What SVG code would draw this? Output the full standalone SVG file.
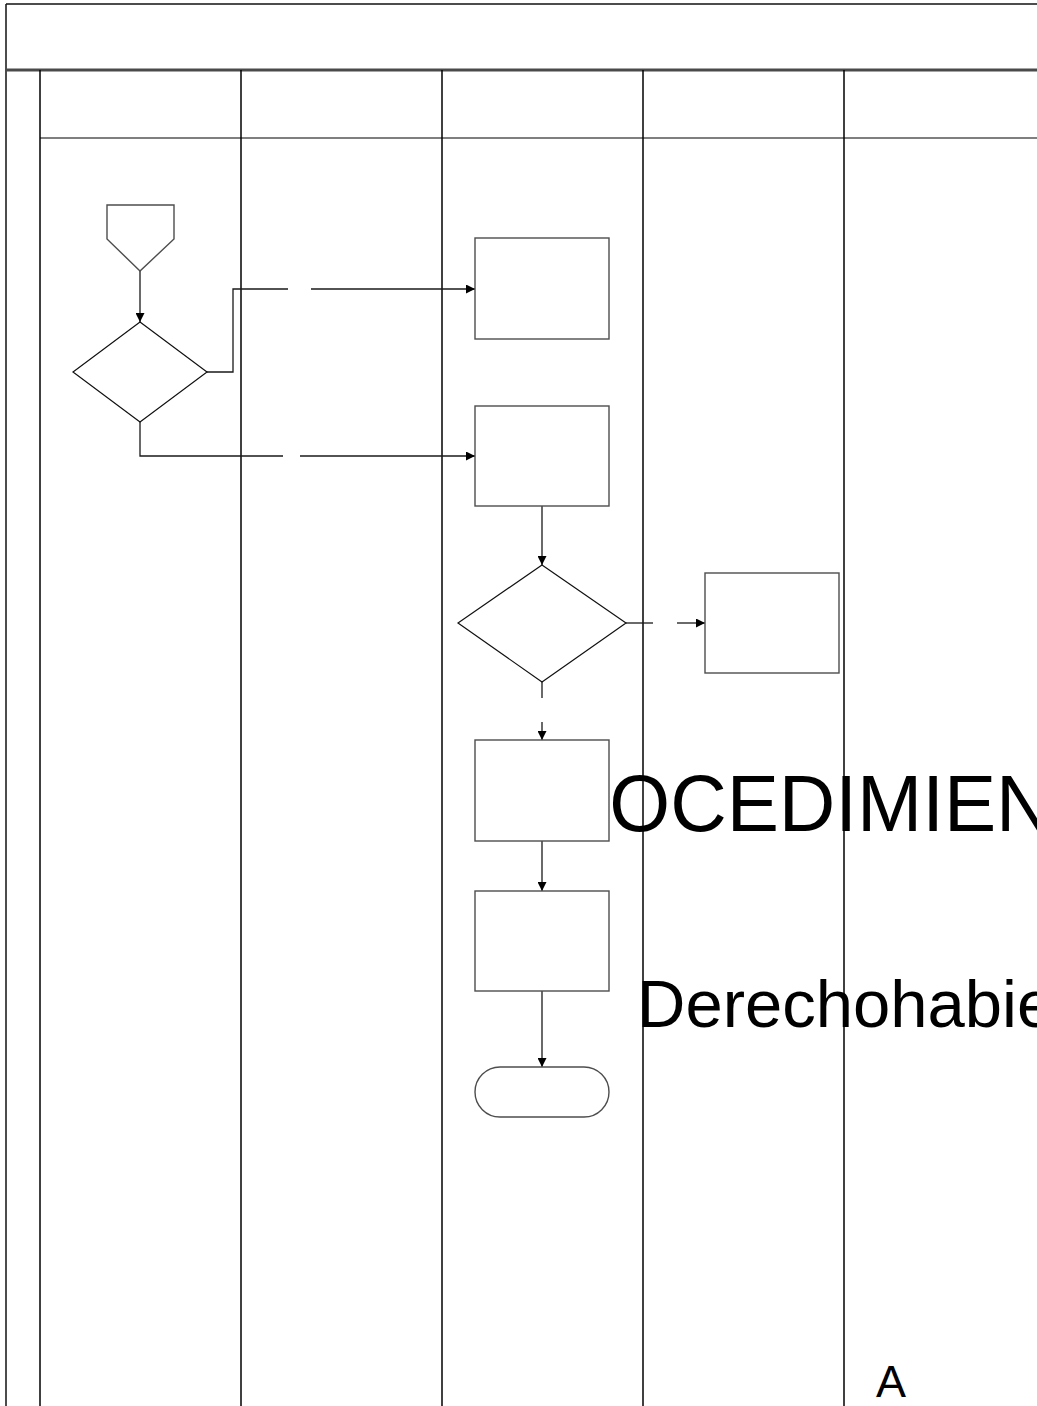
<svg xmlns="http://www.w3.org/2000/svg" width="1037" height="1406" viewBox="0 0 1037 1406">
  <style>
    .bg { fill: #ffffff; }
    .title { font-family: "Liberation Sans", Arial, sans-serif; fill: #000000; }
    .frame { fill: none; stroke: #111111; stroke-width: 1.5; }
    .band { fill: none; stroke: #4a4a4a; stroke-width: 2.8; }
    .sub { fill: none; stroke: #555555; stroke-width: 1.5; }
    .lane { fill: none; stroke: #000000; stroke-width: 1.5; }
    .box { fill: #ffffff; stroke: #4d4d4d; stroke-width: 1.4; }
    .dec { fill: #ffffff; stroke: #111111; stroke-width: 1.2; }
    .link { fill: none; stroke: #1a1a1a; stroke-width: 1.3; }
  </style>
  <defs>
    <marker id="arrow" viewBox="0 0 10 10" refX="10" refY="5" markerWidth="10" markerHeight="9" markerUnits="userSpaceOnUse" orient="auto">
      <path d="M0,0 L10,5 L0,10 z" fill="#000000"/>
    </marker>
  </defs>

  <rect class="bg" x="0" y="0" width="1037" height="1406"/>

  <!-- large headings that run under the lane grid -->
  <g id="headings">
    <text class="title" transform="translate(609.3,831) scale(0.978,1)" font-size="80">OCEDIMIEN</text>
    <text class="title" x="637" y="1027" font-size="67">Derechohabie</text>
    <text class="title" x="876" y="1397" font-size="45">A</text>
  </g>

  <!-- swimlane frame -->
  <g id="frame">
    <line class="frame" x1="6" y1="4" x2="1037" y2="4"/>
    <line class="frame" x1="6" y1="4" x2="6" y2="1406"/>
    <line class="band" x1="6" y1="70" x2="1037" y2="70"/>
    <line class="sub" x1="40" y1="138" x2="1037" y2="138"/>
    <line class="lane" x1="40" y1="70" x2="40" y2="1406"/>
    <line class="lane" x1="241" y1="70" x2="241" y2="1406"/>
    <line class="lane" x1="442" y1="70" x2="442" y2="1406"/>
    <line class="lane" x1="643" y1="70" x2="643" y2="1406"/>
    <line class="lane" x1="844" y1="70" x2="844" y2="1406"/>
  </g>

  <!-- connectors -->
  <g id="connectors">
    <line class="link" x1="140" y1="271" x2="140" y2="322" marker-end="url(#arrow)"/>
    <polyline class="link" points="207,372 233,372 233,289 288,289"/>
    <line class="link" x1="311" y1="289" x2="475" y2="289" marker-end="url(#arrow)"/>
    <polyline class="link" points="140,422 140,456 283,456"/>
    <line class="link" x1="300" y1="456" x2="475" y2="456" marker-end="url(#arrow)"/>
    <line class="link" x1="542" y1="506" x2="542" y2="565" marker-end="url(#arrow)"/>
    <line class="link" x1="626" y1="623" x2="653" y2="623"/>
    <line class="link" x1="677" y1="623" x2="705" y2="623" marker-end="url(#arrow)"/>
    <line class="link" x1="542" y1="682" x2="542" y2="698"/>
    <line class="link" x1="542" y1="722" x2="542" y2="740" marker-end="url(#arrow)"/>
    <line class="link" x1="542" y1="841" x2="542" y2="891" marker-end="url(#arrow)"/>
    <line class="link" x1="542" y1="991" x2="542" y2="1067" marker-end="url(#arrow)"/>
  </g>

  <!-- nodes -->
  <g id="start">
    <polygon class="box" points="107,205 174,205 174,239 140,271 107,239"/>
  </g>
  <g id="decision-1">
    <polygon class="dec" points="140,322 207,372 140,422 73,372"/>
  </g>
  <g id="step-1">
    <rect class="box" x="475" y="238" width="134" height="101"/>
  </g>
  <g id="step-2">
    <rect class="box" x="475" y="406" width="134" height="100"/>
  </g>
  <g id="decision-2">
    <polygon class="dec" points="542,565 626,623 542,682 458,623"/>
  </g>
  <g id="step-3">
    <rect class="box" x="705" y="573" width="134" height="100"/>
  </g>
  <g id="step-4">
    <rect class="box" x="475" y="740" width="134" height="101"/>
  </g>
  <g id="step-5">
    <rect class="box" x="475" y="891" width="134" height="100"/>
  </g>
  <g id="end">
    <rect class="box" x="475" y="1067" width="134" height="50" rx="25" ry="25"/>
  </g>
</svg>
